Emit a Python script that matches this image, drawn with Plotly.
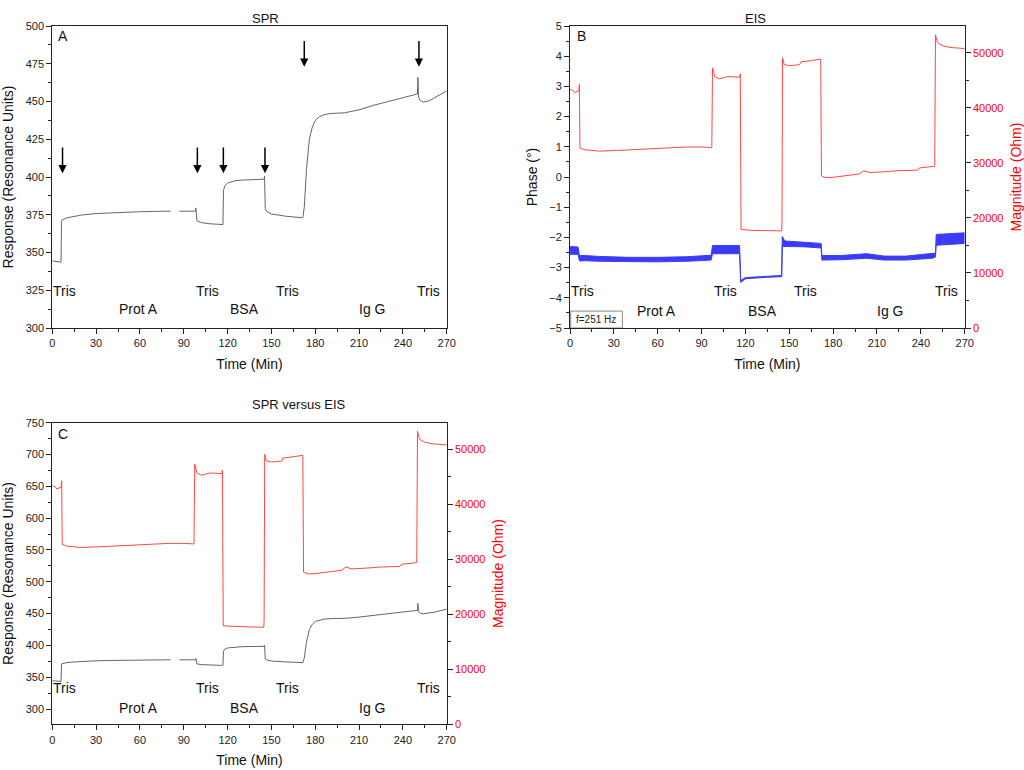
import plotly.graph_objects as go

# ---------------- data ----------------
spr_t = [0, 3, 6, 6.3, 7, 10, 15, 20, 30, 40, 50, 60, 70, 81, None, 87, 95, 98, 98.3, 99, 102, 108,
         116.8, 117.2, 118, 120, 125, 130, 140, 145, 145.3, 145.8, 147, 150, 160, 171.5, 172.5, 174,
         176, 178, 180, 183, 186, 190, 200, 210, 220, 230, 240, 250, 250.3, 250.7, 252, 254, 258, 262, 270]
spr_v = [344.5, 344, 343.5, 371, 371.5, 373, 374, 374.8, 375.8, 376.3, 376.7, 377, 377.2, 377.4, None,
         377.3, 377.3, 377.4, 379.5, 371, 369.8, 369, 368.5, 391, 394, 396, 397.5, 398, 398.3, 398.6,
         400.5, 379, 377, 375.5, 374, 373, 380, 405, 425, 433, 437.5, 440, 441.3, 442, 442.5, 444.5,
         447.5, 450, 452.5, 455, 466, 453, 450.5, 449.6, 450.5, 452.5, 457]

mag_t = [0, 2, 3, 5, 6, 6.4, 6.8, 10, 20, 30, 40, 50, 60, 70, 80, 90, 97, 97.5, 99, 102, 105, 108, 116,
         116.5, 117, 125, 135, 144.8, 145, 145.4, 146.5, 150, 157, 158, 165, 171.5, 172, 175, 180, 190,
         198, 201, 203, 205, 215, 225, 238, 239, 249.5, 250, 251, 252, 253, 255, 260, 265, 270]
mag_v = [43400, 43200, 42800, 43000, 43100, 44300, 32700, 32400, 32150, 32250, 32400, 32500, 32650,
         32800, 32900, 32900, 32800, 47300, 45700, 45300, 45500, 45700, 45600, 46200, 17900, 17750,
         17700, 17650, 19100, 49100, 47900, 47700, 47850, 48400, 48600, 48900, 27650, 27350, 27400,
         27700, 28000, 28600, 28400, 28250, 28400, 28600, 28700, 29100, 29400, 53300, 52200, 51700,
         51600, 51300, 51000, 50900, 50800]

phase_t = [0, 5.5, 6.5, 10, 20, 40, 60, 80, 96.5, 97.5, 116, 116.8, 120, 135, 144.8, 145.2, 147, 160,
           171.8, 172.3, 185, 203, 215, 230, 248, 250, 250.5, 260, 270]
phase_lo = [-2.56, -2.56, -2.78, -2.77, -2.79, -2.81, -2.81, -2.79, -2.75, -2.54, -2.54, -3.49, -3.37,
            -3.32, -3.30, -2.30, -2.30, -2.31, -2.35, -2.75, -2.74, -2.69, -2.75, -2.75, -2.69, -2.65,
            -2.26, -2.23, -2.20]
phase_hi = [-2.30, -2.32, -2.60, -2.60, -2.63, -2.66, -2.66, -2.64, -2.59, -2.27, -2.27, -3.43, -3.33,
            -3.28, -3.26, -1.97, -2.12, -2.16, -2.20, -2.60, -2.60, -2.54, -2.62, -2.62, -2.54, -2.52,
            -1.90, -1.88, -1.85]

arrow_times_low = [7, 99.3, 117.1, 145.6]
arrow_times_high = [172.5, 251]

phase_labels = ["Tris", "Tris", "Tris", "Tris"]
phase_label_t = [8.6, 106.5, 160.8, 257.8]
stage_labels = ["Prot A", "BSA", "Ig G"]
stage_label_t = [59.3, 131.5, 218.9]

# ---------------- figure ----------------
FONT = "Arial, Liberation Sans, sans-serif"
GRAY = "#666666"
RED = "rgb(255,70,70)"

fig = go.Figure()

# Panel A
fig.add_trace(go.Scatter(x=spr_t, y=spr_v, mode="lines", line=dict(color=GRAY, width=1),
                         connectgaps=False, xaxis="x", yaxis="y", showlegend=False))
# Panel B
fig.add_trace(go.Scatter(x=phase_t, y=phase_lo, mode="lines", line=dict(color="rgb(60,60,255)", width=1),
                         xaxis="x2", yaxis="y2", showlegend=False))
fig.add_trace(go.Scatter(x=phase_t, y=phase_hi, mode="lines", line=dict(color="rgb(60,60,255)", width=1),
                         fill="tonexty", fillcolor="rgba(10,10,240,0.8)",
                         xaxis="x2", yaxis="y2", showlegend=False))
fig.add_trace(go.Scatter(x=mag_t, y=mag_v, mode="lines", line=dict(color=RED, width=1),
                         xaxis="x2", yaxis="y3", showlegend=False))
# Panel C
fig.add_trace(go.Scatter(x=spr_t, y=spr_v, mode="lines", line=dict(color=GRAY, width=1),
                         connectgaps=False, xaxis="x3", yaxis="y4", showlegend=False))
fig.add_trace(go.Scatter(x=mag_t, y=mag_v, mode="lines", line=dict(color=RED, width=1),
                         xaxis="x3", yaxis="y5", showlegend=False))

tickfont = dict(family=FONT, size=11, color="#222")
titlefont = dict(family=FONT, size=14, color="#111")


def xax(domain, anchor):
    return dict(domain=domain, anchor=anchor, range=[0, 270], tick0=0, dtick=30, automargin=False,
                ticks="outside", ticklen=5, tickcolor="#222", showline=True, linecolor="#222",
                linewidth=1, mirror=True, showgrid=False, zeroline=False, tickfont=tickfont,
                minor=dict(dtick=15, ticks="outside", ticklen=3, tickcolor="#222"),
                title=dict(text="Time (Min)", font=titlefont, standoff=10))


def yax(domain, anchor, rng, dtick, minor, title):
    return dict(domain=domain, anchor=anchor, range=rng, dtick=dtick, tick0=0, automargin=False,
                ticks="outside", ticklen=5, tickcolor="#222", showline=True, linecolor="#222",
                linewidth=1, mirror=True, showgrid=False, zeroline=False, tickfont=tickfont,
                minor=dict(dtick=minor, ticks="outside", ticklen=3, tickcolor="#222"),
                title=dict(text=title, font=titlefont, standoff=8))


def y_right(overlay, anchor, rng):
    return dict(overlaying=overlay, anchor=anchor, side="right", range=rng, dtick=10000, tick0=0,
                automargin=False, tickformat="d",
                ticks="outside", ticklen=5, tickcolor="#222", showline=True, linecolor="#222",
                showgrid=False, zeroline=False,
                tickfont=dict(family=FONT, size=11, color="red"),
                minor=dict(dtick=5000, ticks="outside", ticklen=3, tickcolor="#222"),
                title=dict(text="Magnitude (Ohm)", font=dict(family=FONT, size=14, color="red"),
                           standoff=8))


top_dom = [1 - 328 / 770, 1 - 26 / 770]
bot_dom = [1 - 724.3 / 770, 1 - 422.7 / 770]
left_dom = [52.3 / 1024, 446.7 / 1024]
right_dom = [570 / 1024, 964.7 / 1024]

fig.update_layout(
    width=1024, height=770, margin=dict(l=0, r=0, t=0, b=0),
    paper_bgcolor="white", plot_bgcolor="white",
    font=dict(family=FONT),
    xaxis=xax(left_dom, "y"),
    yaxis=yax(top_dom, "x", [300, 500], 25, 12.5, "Response (Resonance Units)"),
    xaxis2=xax(right_dom, "y2"),
    yaxis2=yax(top_dom, "x2", [-5, 5], 1, 0.5, "Phase (°)"),
    yaxis3=y_right("y2", "x2", [0, 54900]),
    xaxis3=xax(left_dom, "y4"),
    yaxis4=yax(bot_dom, "x3", [276, 750], 50, 25, "Response (Resonance Units)"),
    yaxis5=y_right("y4", "x3", [0, 54840]),
)
fig.layout.yaxis2.mirror = False

ann = []
lab = dict(family=FONT, size=14, color="#111")
# panel titles
for text, xc, yc in [("SPR", 249.5, 8.5), ("EIS", 767.5, 8.5), ("SPR versus EIS", 249.5, 404.5)]:
    ann.append(dict(text=text, x=xc / 1024, y=1 - yc / 770, xref="paper", yref="paper",
                    showarrow=False, font=dict(family=FONT, size=13, color="#111")))
# panel letters
ann.append(dict(text="A", x=7.5, y=493.5, xref="x", yref="y", showarrow=False, font=lab))
ann.append(dict(text="B", x=8, y=4.67, xref="x2", yref="y2", showarrow=False, font=lab))
ann.append(dict(text="C", x=7.5, y=733, xref="x3", yref="y4", showarrow=False, font=lab))
# labels
for xr, yr, ytris, ystage in [("x", "y", 324.5, 312.5), ("x2", "y2", -3.77, -4.44),
                              ("x3", "y4", 333.5, 301.5)]:
    for txt, t in zip(phase_labels, phase_label_t):
        ann.append(dict(text=txt, x=t, y=ytris, xref=xr, yref=yr, showarrow=False, font=lab))
    for txt, t in zip(stage_labels, stage_label_t):
        ann.append(dict(text=txt, x=t, y=ystage, xref=xr, yref=yr, showarrow=False, font=lab))
# arrows in panel A
for t in arrow_times_low:
    ann.append(dict(x=t, y=402.5, ax=t, ay=420.5, xref="x", yref="y", axref="x", ayref="y",
                    text="", showarrow=True, arrowhead=2, arrowsize=1.1, arrowwidth=1.5,
                    arrowcolor="black"))
for t in arrow_times_high:
    ann.append(dict(x=t, y=473, ax=t, ay=491, xref="x", yref="y", axref="x", ayref="y",
                    text="", showarrow=True, arrowhead=2, arrowsize=1.1, arrowwidth=1.5,
                    arrowcolor="black"))
# frequency box
ann.append(dict(text="f=251 Hz", x=18, y=-4.72, xref="x2", yref="y2", showarrow=False,
                font=dict(family=FONT, size=10, color="#222")))
fig.update_layout(annotations=ann)
fig.add_shape(type="rect", x0=0.5, x1=35.8, y0=-5, y1=-4.44, xref="x2", yref="y2",
              line=dict(color="#888", width=1), fillcolor="rgba(0,0,0,0)")

fig.write_html("out.html", config={"displayModeBar": False},
               post_script="document.body.style.margin='0';document.body.style.overflow='hidden';")
